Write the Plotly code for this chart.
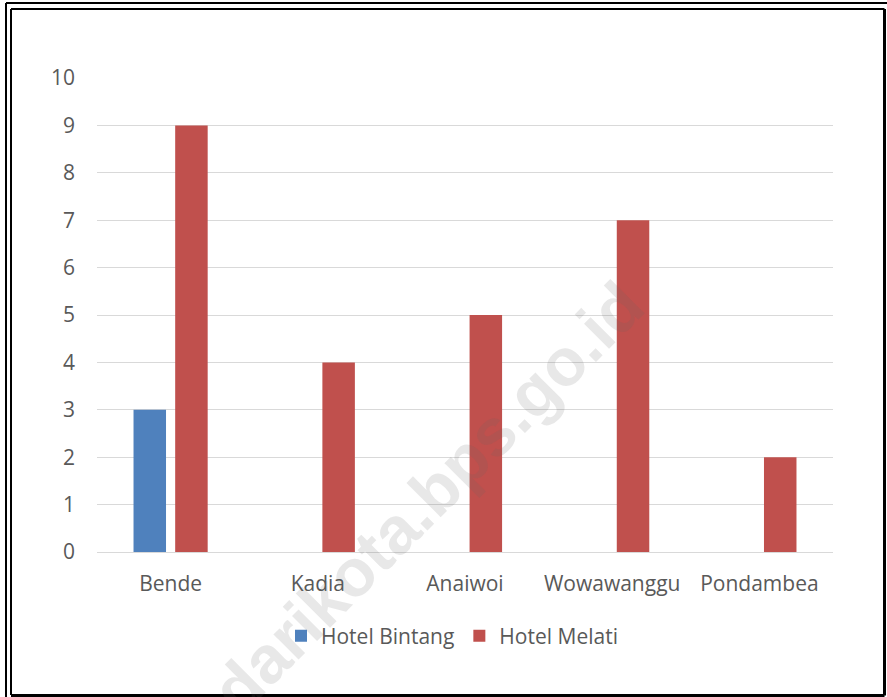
import plotly.graph_objects as go

# Number of hotels per district
districts = ["Bende", "Kadia", "Anaiwoi", "Wowawanggu", "Pondambea"]
hotel_bintang = [3, 0, 0, 0, 0]
hotel_melati = [9, 4, 5, 7, 2]
y_ticks = list(range(0, 11))

W, H = 887, 697
L, R, T, B = 97, 54, 78, 145
PW, PH = W - L - R, H - T - B

TEXT = "#595959"
FONT = "Open Sans"
FS = 21


def px(x):
    return (x - L) / PW


def py(y):
    return (H - B - y) / PH


fig = go.Figure()
fig.add_trace(go.Bar(name="Hotel Bintang", x=districts, y=hotel_bintang,
                     marker=dict(color="#4F81BD", line=dict(width=0))))
fig.add_trace(go.Bar(name="Hotel Melati", x=districts, y=hotel_melati,
                     marker=dict(color="#C0504D", line=dict(width=0))))

# double-line page frame
frame = [
    (6, 3, 6, 697, 2),      # outer left
    (6, 3, 887, 3, 2),      # outer top
    (11, 9, 11, 695, 2),    # inner left
    (11, 9, 884.5, 9, 2),   # inner top
    (884.5, 9, 884.5, 695.5, 3),  # right
    (11, 695.5, 884.5, 695.5, 3),  # bottom
]
shapes = [dict(type="line", xref="paper", yref="paper",
               x0=px(a), y0=py(b), x1=px(c), y1=py(d),
               line=dict(color="black", width=w), layer="above")
          for a, b, c, d, w in frame]

fig.update_layout(
    width=W, height=H,
    margin=dict(l=L, r=R, t=T, b=B, pad=0),
    paper_bgcolor="white", plot_bgcolor="white",
    barmode="group", bargap=0.434, bargroupgap=0.22,
    font=dict(family=FONT, size=FS, color=TEXT),
    showlegend=True,
    legend=dict(orientation="h", x=px(452), xanchor="center",
                y=py(636), yanchor="middle",
                font=dict(family=FONT, size=FS, color=TEXT),
                itemwidth=30, traceorder="normal"),
    xaxis=dict(type="category", showgrid=False, showline=False,
               ticks="", tickfont=dict(family=FONT, size=FS, color=TEXT),
               ticklabelstandoff=17),
    yaxis=dict(range=[0, 10], tickvals=y_ticks, showgrid=True,
               gridcolor="#D9D9D9", gridwidth=1, zeroline=True,
               zerolinecolor="#D9D9D9", zerolinewidth=1, showline=False,
               ticks="", tickfont=dict(family=FONT, size=FS, color=TEXT),
               ticklabelstandoff=21),
    shapes=shapes,
    annotations=[dict(text="<b>kendarikota.bps.go.id</b>",
                      xref="paper", yref="paper", x=px(386), y=py(538),
                      xanchor="center", yanchor="middle", textangle=-45,
                      showarrow=False,
                      font=dict(family="Liberation Sans", size=67,
                                color="rgba(100,100,100,0.15)"))],
)

fig.write_html("out.html")
